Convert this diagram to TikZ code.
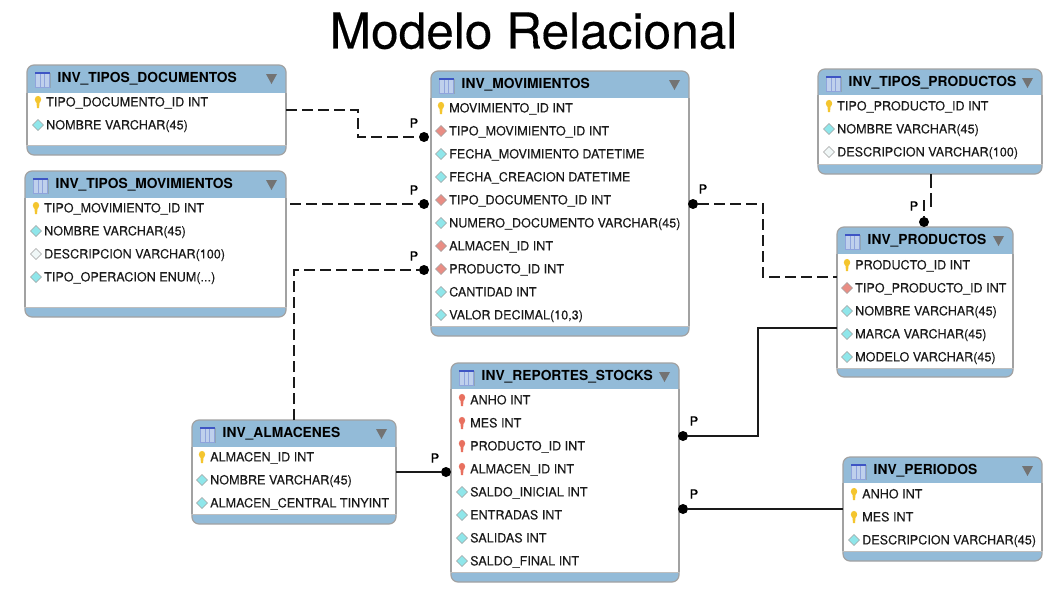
\documentclass[tikz,border=0pt]{standalone}
\usepackage{fontspec}
\setmainfont{TeX Gyre Heros}
\definecolor{hdr}{HTML}{93BBD8}
\definecolor{edge}{HTML}{A2A2A2}
\definecolor{ink}{HTML}{1A1A1A}
\definecolor{dcyan}{HTML}{8FE6EA}
\definecolor{dred}{HTML}{E98D84}
\definecolor{dwhite}{HTML}{F0F7F7}
\definecolor{kyel}{HTML}{F4C52E}
\definecolor{kred}{HTML}{E8705F}
\definecolor{icbody}{HTML}{BFD0EC}
\definecolor{icline}{HTML}{8FA4DC}
\definecolor{ictop}{HTML}{3E55C4}
\newcommand{\rowfont}{\fontsize{12.6}{14}\selectfont\addfontfeature{FakeBold=0.15}}
\newcommand{\hdrfont}{\fontsize{13.8}{15}\bfseries\selectfont}
\tikzset{
  tblbase/.style={draw=edge,line width=1.2pt,fill=hdr,rounded corners=7pt,inner sep=0pt,outer sep=0pt},
  rowtext/.style={anchor=base west,inner sep=0pt,text=ink,font=\rowfont},
  titletext/.style={anchor=base west,inner sep=0pt,text=black,font=\hdrfont},
  plabel/.style={inner sep=0pt,text=black,font=\fontsize{12.5}{14}\selectfont\addfontfeature{FakeBold=0.6}},
  dotnode/.style={circle,fill=black,inner sep=0pt,minimum size=10pt,outer sep=0pt},
  fk/.style={line width=1.1pt,draw=ink,dash pattern=on 11pt off 5pt},
  rel/.style={line width=1.1pt,draw=ink}
}
% name x1 y1 x2 y2 headerbottom footertop title
\newcommand{\tbl}[8]{%
  \pgfmathsetmacro{\tw}{#4-#2}\pgfmathsetmacro{\th}{#5-#3}%
  \pgfmathsetmacro{\tcx}{(#2+#4)/2}\pgfmathsetmacro{\tcy}{(#3+#5)/2}%
  \node[tblbase,minimum width=\tw pt,minimum height=\th pt] (#1) at (\tcx,\tcy) {};
  \fill[white] (#2,#6) rectangle (#4,#7);
  \draw[edge,line width=1.2pt] (#2,#6) -- (#2,#7) (#4,#6) -- (#4,#7);
  \draw[edge!70,line width=1pt] (#2,#7) -- (#4,#7);
  \fill[black!45,opacity=.45] ({#2+8.5},{#3+8}) rectangle ({#2+23.5},{#3+23});
  \draw[icline,line width=.5pt,fill=icbody] ({#2+8},{#3+7}) rectangle ({#2+22.5},{#3+22});
  \fill[ictop] ({#2+8},{#3+7}) rectangle ({#2+22.5},{#3+8.6});
  \draw[icline,line width=.6pt] ({#2+12.8},{#3+9}) -- ({#2+12.8},{#3+21.5}) ({#2+17.6},{#3+9}) -- ({#2+17.6},{#3+21.5});
  \node[titletext] (#1title) at ({#2+30.5},{#3+17.5}) {#8};
  \fill[black!55] ({#4-20},{#3+9}) -- ({#4-9},{#3+9}) -- ({#4-14.5},{#3+19}) -- cycle;
}
% node name, x of text, y centre, icon macro, text
\newcommand{\rowt}[5]{%
  #4{#2}{#3}
  \node[rowtext] (#1) at (#2,{#3+4.4}) {#5};
}
\newcommand{\dia}[3]{\draw[edge,line width=.5pt,fill=#3] ({#1-13.5},#2) -- ({#1-8},{#2-5.5}) -- ({#1-2.5},#2) -- ({#1-8},{#2+5.5}) -- cycle;}
\newcommand{\dc}[2]{\dia{#1}{#2}{dcyan}}
\newcommand{\dr}[2]{\dia{#1}{#2}{dred}}
\newcommand{\dw}[2]{\dia{#1}{#2}{dwhite}}
\newcommand{\keyy}[3]{\fill[#3] ({#1-8},{#2-2.5}) ellipse (3.2pt and 3.6pt); \fill[#3] ({#1-9.6},{#2}) -- ({#1-6.4},{#2}) -- ({#1-7},{#2+6}) -- ({#1-9},{#2+6}) -- cycle;}
\newcommand{\ky}[2]{\keyy{#1}{#2}{kyel}}
\newcommand{\kr}[2]{\keyy{#1}{#2}{kred}}
\begin{document}
\begin{tikzpicture}[x=1pt,y=-1pt]
\useasboundingbox (0,0) rectangle (1059,594);
\node[anchor=base,inner sep=0pt,font=\fontsize{49.6}{54}\selectfont\addfontfeature{FakeBold=0.35}] (heading) at (533.5,48.5) {Modelo Relacional};

\tbl{doc}{27}{65}{286}{155}{93}{145}{INV\_TIPOS\_DOCUMENTOS}
\rowt{doca}{46}{102}{\ky}{TIPO\_DOCUMENTO\_ID INT}
\rowt{docb}{46}{125}{\dc}{NOMBRE VARCHAR(45)}

\tbl{tmov}{25}{171}{286}{317}{198}{307}{INV\_TIPOS\_MOVIMIENTOS}
\rowt{tmova}{44}{208}{\ky}{TIPO\_MOVIMIENTO\_ID INT}
\rowt{tmovb}{44}{231}{\dc}{NOMBRE VARCHAR(45)}
\rowt{tmovc}{44}{254}{\dw}{DESCRIPCION VARCHAR(100)}
\rowt{tmovd}{44}{277}{\dc}{TIPO\_OPERACION ENUM(...)}

\tbl{mov}{431}{71}{689}{336}{98}{326}{INV\_MOVIMIENTOS}
\rowt{mova}{449}{108}{\ky}{MOVIMIENTO\_ID INT}
\rowt{movb}{449}{131}{\dr}{TIPO\_MOVIMIENTO\_ID INT}
\rowt{movc}{449}{154}{\dc}{FECHA\_MOVIMIENTO DATETIME}
\rowt{movd}{449}{177}{\dc}{FECHA\_CREACION DATETIME}
\rowt{move}{449}{200}{\dr}{TIPO\_DOCUMENTO\_ID INT}
\rowt{movf}{449}{223}{\dc}{NUMERO\_DOCUMENTO VARCHAR(45)}
\rowt{movg}{449}{246}{\dr}{ALMACEN\_ID INT}
\rowt{movh}{449}{269}{\dr}{PRODUCTO\_ID INT}
\rowt{movi}{449}{292}{\dc}{CANTIDAD INT}
\rowt{movj}{449}{315}{\dc}{VALOR DECIMAL(10,3)}

\tbl{tprod}{818}{69}{1042}{174}{95}{164}{INV\_TIPOS\_PRODUCTOS}
\rowt{tproda}{837}{106}{\ky}{TIPO\_PRODUCTO\_ID INT}
\rowt{tprodb}{837}{129}{\dc}{NOMBRE VARCHAR(45)}
\rowt{tprodc}{837}{152}{\dw}{DESCRIPCION VARCHAR(100)}

\tbl{prod}{837}{227}{1013}{377}{254}{368}{INV\_PRODUCTOS}
\rowt{proda}{855}{265}{\ky}{PRODUCTO\_ID INT}
\rowt{prodb}{855}{288}{\dr}{TIPO\_PRODUCTO\_ID INT}
\rowt{prodc}{855}{311}{\dc}{NOMBRE VARCHAR(45)}
\rowt{prodd}{855}{334}{\dc}{MARCA VARCHAR(45)}
\rowt{prode}{855}{357}{\dc}{MODELO VARCHAR(45)}

\tbl{rep}{451}{363}{679}{582}{389}{572}{INV\_REPORTES\_STOCKS}
\rowt{repa}{470}{400}{\kr}{ANHO INT}
\rowt{repb}{470}{423}{\kr}{MES INT}
\rowt{repc}{470}{446}{\kr}{PRODUCTO\_ID INT}
\rowt{repd}{470}{469}{\kr}{ALMACEN\_ID INT}
\rowt{repe}{470}{492}{\dc}{SALDO\_INICIAL INT}
\rowt{repf}{470}{515}{\dc}{ENTRADAS INT}
\rowt{repg}{470}{538}{\dc}{SALIDAS INT}
\rowt{reph}{470}{561}{\dc}{SALDO\_FINAL INT}

\tbl{alm}{192}{420}{396}{524}{447}{514}{INV\_ALMACENES}
\rowt{alma}{210}{457}{\ky}{ALMACEN\_ID INT}
\rowt{almb}{210}{480}{\dc}{NOMBRE VARCHAR(45)}
\rowt{almc}{210}{503}{\dc}{ALMACEN\_CENTRAL TINYINT}

\tbl{per}{843}{457}{1042}{561}{483}{551}{INV\_PERIODOS}
\rowt{pera}{862}{494}{\ky}{ANHO INT}
\rowt{perb}{862}{517}{\ky}{MES INT}
\rowt{perc}{862}{540}{\dc}{DESCRIPCION VARCHAR(45)}

% end dots
\node[dotnode] (d1) at (424,137) {};
\node[dotnode] (d2) at (424,204) {};
\node[dotnode] (d3) at (424,270) {};
\node[dotnode] (d4) at (693,204) {};
\node[dotnode] (d5) at (924,222) {};
\node[dotnode] (d6) at (683,436) {};
\node[dotnode] (d7) at (683,509) {};
\node[dotnode] (d8) at (446,472) {};

% bend coordinates
\coordinate (t5) at (931,211);
\coordinate (t5b) at (924,200);

% connectors
\draw[fk] (doc.east |- 0,110) -| (358,137) -- (d1);
\draw[fk,dash phase=12pt] (tmov.east |- d2) -- (d2);
\draw[fk] (alm.north -| 294,0) |- (d3);
\draw[fk] (d4) -| (763,277) -- (prod.west |- 0,277);
\draw[fk,dash pattern=on 14pt off 5pt] (tprod.south -| t5) -- (t5);
\draw[fk] (t5b) -- (d5);
\draw[rel] (prod.west |- 0,328) -| (758,436) -- (d6);
\draw[rel] (per.west |- d7) -- (d7);
\draw[rel] (alm.east |- d8) -- (d8);

% cardinality labels
\node[plabel] (p1) at (414,123) {P};
\node[plabel] (p2) at (414,190) {P};
\node[plabel] (p3) at (414,256) {P};
\node[plabel] (p4) at (703,189) {P};
\node[plabel] (p5) at (914,206) {P};
\node[plabel] (p6) at (694,421) {P};
\node[plabel] (p7) at (694,494) {P};
\node[plabel] (p8) at (435,458) {P};
\end{tikzpicture}
\end{document}
